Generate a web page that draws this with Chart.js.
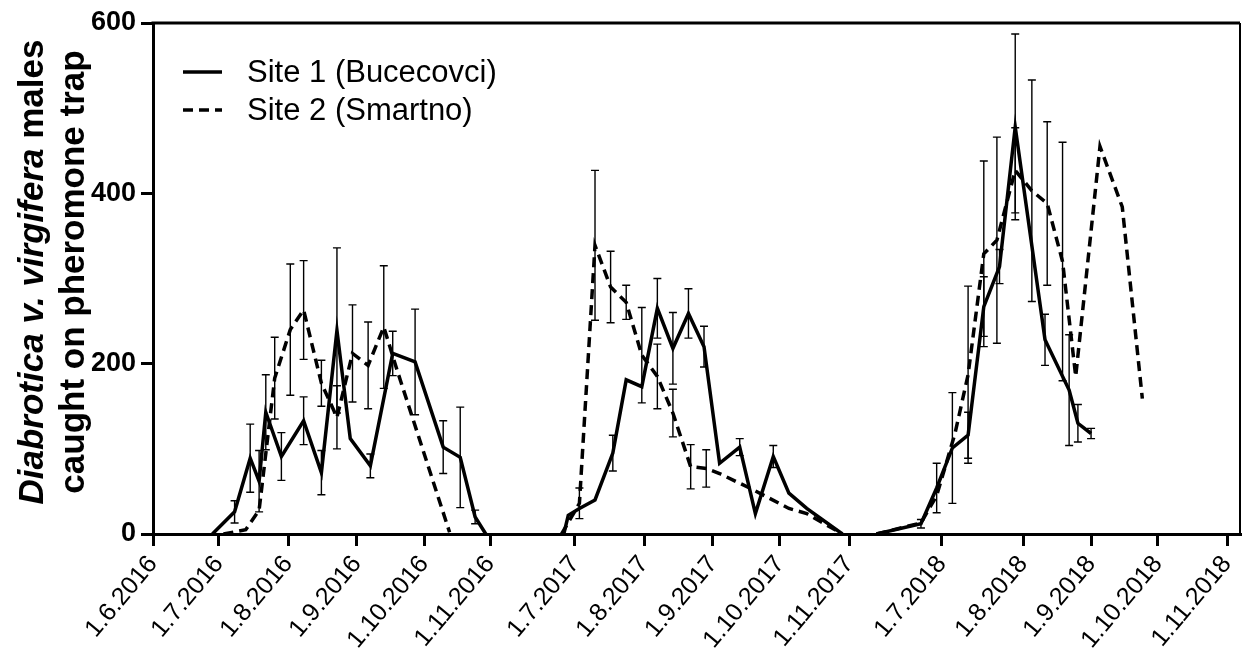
<!DOCTYPE html>
<html>
<head>
<meta charset="utf-8">
<script src="https://cdn.jsdelivr.net/npm/chart.js@4.4.1/dist/chart.umd.min.js"></script>
<style>
  html, body { margin: 0; padding: 0; background: #fff; }
  #wrap { width: 1242px; height: 665px; }
</style>
</head>
<body>
<div id="wrap"><canvas id="myChart" width="1242" height="665"></canvas></div>
<script>
// X axis tick labels (the axis skips the winter months)
const tickLabels = [
  "1.6.2016", "1.7.2016", "1.8.2016", "1.9.2016", "1.10.2016", "1.11.2016",
  "1.7.2017", "1.8.2017", "1.9.2017", "1.10.2017", "1.11.2017",
  "1.7.2018", "1.8.2018", "1.9.2018", "1.10.2018", "1.11.2018"
];
// Where each tick sits on the broken axis (axis units, roughly days)
const tickPos = [0, 30, 61.4, 92.7, 123.2, 153.2, 191.8, 223.2, 254.5, 285, 316.4, 358.6, 395.5, 426.4, 456.8, 488.2];
const xMax = 494.1;

// Y axis ticks
const yTicks = [0, 200, 400, 600];

// Site 1 (Bucecovci): sampling dates, mean males per trap, error
const site1Dates = [
  "28.6.2016", "8.7.2016", "15.7.2016", "19.7.2016", "22.7.2016", "29.7.2016", "8.8.2016", "16.8.2016",
  "23.8.2016", "29.8.2016", "7.9.2016", "17.9.2016", "27.9.2016", "10.10.2016", "18.10.2016", "25.10.2016", "30.10.2016",
  "26.6.2017", "28.6.2017", "3.7.2017", "10.7.2017", "18.7.2017", "24.7.2017", "31.7.2017", "7.8.2017", "14.8.2017",
  "21.8.2017", "28.8.2017", "4.9.2017", "13.9.2017", "20.9.2017", "28.9.2017", "5.10.2017", "13.10.2017", "29.10.2017",
  "6.6.2018", "23.6.2018", "29.6.2018", "5.7.2018", "11.7.2018", "17.7.2018", "23.7.2018", "29.7.2018",
  "11.8.2018", "22.8.2018", "26.8.2018", "1.9.2018"
];
const site1Values = [
  0, 26, 89, 62, 143, 91, 133, 72, 239, 112, 80, 212, 202, 102, 90, 20, 0,
  0, 22, 30, 40, 95, 181, 173, 265, 218, 259, 220, 83, 102, 24, 91, 48, 30, 0,
  0, 12, 54, 101, 116, 267, 314, 478, 228, 169, 130, 118
];
const site1Err = [
  0, 13, 40, 36, 44, 28, 28, 26, 97, 0, 14, 26, 62, 31, 59, 8, 0,
  0, 0, 0, 0, 21, 0, 0, 35, 42, 29, 24, 0, 10, 0, 13, 0, 0, 0,
  0, 5, 29, 65, 27, 35, 20, 109, 30, 65, 22, 6
];

// Site 2 (Smartno)
const site2Dates = [
  "3.7.2016", "13.7.2016", "19.7.2016", "26.7.2016", "2.8.2016", "8.8.2016", "16.8.2016", "23.8.2016",
  "30.8.2016", "6.9.2016", "13.9.2016", "19.9.2016", "13.10.2016",
  "25.6.2017", "3.7.2017", "10.7.2017", "17.7.2017", "24.7.2017", "31.7.2017", "7.8.2017", "14.8.2017",
  "22.8.2017", "29.8.2017", "4.9.2017", "19.9.2017", "5.10.2017", "13.10.2017", "29.10.2017",
  "6.6.2018", "23.6.2018", "29.6.2018", "6.7.2018", "11.7.2018", "17.7.2018", "22.7.2018", "29.7.2018",
  "5.8.2018", "12.8.2018", "19.8.2018", "25.8.2018", "5.9.2018", "15.9.2018", "24.9.2018"
];
const site2Values = [
  0, 5, 28, 183, 240, 263, 177, 137, 212, 198, 243, 192, 2,
  0, 36, 339, 290, 272, 210, 185, 142, 79, 77, 71, 52, 30, 24, 0,
  0, 13, 45, 118, 187, 329, 345, 427, 403, 388, 320, 185, 455, 384, 159
];
const site2Err = [
  0, 0, 0, 48, 77, 58, 27, 37, 57, 51, 72, 0, 0,
  0, 18, 88, 42, 20, 56, 38, 28, 26, 22, 0, 0, 0, 0, 0,
  0, 0, 0, 0, 104, 109, 121, 50, 130, 96, 140, 0, 0, 0, 0
];

// Axis title pieces
const titleItalic = "Diabrotica v. virgifera";
const titleRest = " males";
const titleLine2 = "caught on pheromone trap";

const fontFamily = "'Liberation Sans', Arial, Helvetica, sans-serif";

// "d.m.yyyy" -> day number
function toDay(str) {
  const p = str.split(".").map(Number);
  return Date.UTC(p[2], p[1] - 1, p[0]) / 86400000;
}

// Place a date on the broken axis using the ticks of the same year
function dateToAxis(str) {
  const year = str.split(".")[2];
  const anchors = [];
  tickLabels.forEach((lab, i) => {
    if (lab.split(".")[2] === year) anchors.push([toDay(lab), tickPos[i]]);
  });
  const t = toDay(str);
  let i = 0;
  while (i < anchors.length - 2 && t > anchors[i + 1][0]) i++;
  const a = anchors[i], b = anchors[i + 1];
  return a[1] + (t - a[0]) * (b[1] - a[1]) / (b[0] - a[0]);
}

// Build points (with a break between years) and matching error list
function buildSeries(dates, values, errs) {
  const points = [];
  const bars = [];
  let lastYear = null;
  dates.forEach((d, i) => {
    const year = d.split(".")[2];
    if (lastYear !== null && year !== lastYear) {
      points.push({ x: dateToAxis(d) - 1, y: null });
      bars.push(0);
    }
    points.push({ x: dateToAxis(d), y: values[i] });
    bars.push(errs[i]);
    lastYear = year;
  });
  return { points, bars };
}

const s1 = buildSeries(site1Dates, site1Values, site1Err);
const s2 = buildSeries(site2Dates, site2Values, site2Err);

// Error bars with small caps
const errorBarPlugin = {
  id: "errorBars",
  afterDatasetsDraw(chart) {
    const ctx = chart.ctx;
    const xs = chart.scales.x, ys = chart.scales.y;
    ctx.save();
    ctx.strokeStyle = "#000";
    ctx.lineWidth = 1.4;
    chart.data.datasets.forEach((ds) => {
      ds.data.forEach((pt, i) => {
        const e = ds.errors[i];
        if (pt.y === null || !e) return;
        const px = xs.getPixelForValue(pt.x);
        const top = ys.getPixelForValue(pt.y + e);
        const bot = ys.getPixelForValue(pt.y - e);
        ctx.beginPath();
        ctx.moveTo(px, top); ctx.lineTo(px, bot);
        ctx.moveTo(px - 4, top); ctx.lineTo(px + 4, top);
        ctx.moveTo(px - 4, bot); ctx.lineTo(px + 4, bot);
        ctx.stroke();
      });
    });
    ctx.restore();
  }
};

// Top and right frame lines
const framePlugin = {
  id: "frame",
  afterDraw(chart) {
    const a = chart.chartArea;
    const ctx = chart.ctx;
    ctx.save();
    ctx.strokeStyle = "#000";
    ctx.lineWidth = 3;
    ctx.beginPath();
    ctx.moveTo(a.left - 1.5, a.top);
    ctx.lineTo(a.right, a.top);
    ctx.stroke();
    ctx.lineWidth = 2;
    ctx.beginPath();
    ctx.moveTo(a.right, a.top);
    ctx.lineTo(a.right, a.bottom);
    ctx.stroke();
    ctx.restore();
  }
};

// Legend drawn inside the plot, top left
const legendPlugin = {
  id: "insideLegend",
  afterDraw(chart) {
    const a = chart.chartArea;
    const ctx = chart.ctx;
    ctx.save();
    chart.data.datasets.forEach((ds, i) => {
      const y = a.top + 49 + i * 38;
      ctx.strokeStyle = "#000";
      ctx.lineWidth = ds.borderWidth;
      ctx.setLineDash(ds.borderDash || []);
      ctx.beginPath();
      ctx.moveTo(a.left + 30, y);
      ctx.lineTo(a.left + 69, y);
      ctx.stroke();
      ctx.setLineDash([]);
      ctx.fillStyle = "#000";
      ctx.font = "31px " + fontFamily;
      ctx.textBaseline = "middle";
      ctx.textAlign = "left";
      ctx.fillText(ds.label, a.left + 94, y + 1);
    });
    ctx.restore();
  }
};

// Two line y axis title, species name in italics
const yTitlePlugin = {
  id: "yTitle",
  afterDraw(chart) {
    const ctx = chart.ctx;
    const cy = 272;
    const italicFont = "italic bold 35px " + fontFamily;
    const boldFont = "bold 35px " + fontFamily;
    ctx.save();
    ctx.fillStyle = "#000";
    ctx.textBaseline = "alphabetic";
    ctx.textAlign = "left";
    ctx.translate(43, cy);
    ctx.rotate(-Math.PI / 2);
    ctx.font = italicFont;
    const w1 = ctx.measureText(titleItalic).width;
    ctx.font = boldFont;
    const w2 = ctx.measureText(titleRest).width;
    const x0 = -(w1 + w2) / 2;
    ctx.font = italicFont;
    ctx.fillText(titleItalic, x0, 0);
    ctx.font = boldFont;
    ctx.fillText(titleRest, x0 + w1, 0);
    ctx.restore();

    ctx.save();
    ctx.fillStyle = "#000";
    ctx.textBaseline = "alphabetic";
    ctx.textAlign = "center";
    ctx.translate(84, cy);
    ctx.rotate(-Math.PI / 2);
    ctx.font = boldFont;
    ctx.fillText(titleLine2, 0, 0);
    ctx.restore();
  }
};

const canvas = document.getElementById("myChart");
const chart = new Chart(canvas.getContext("2d"), {
  type: "line",
  data: {
    datasets: [
      {
        label: "Site 1 (Bucecovci)",
        data: s1.points,
        errors: s1.bars,
        borderColor: "#000",
        borderWidth: 3.5,
        pointRadius: 0,
        tension: 0,
        fill: false,
        spanGaps: false
      },
      {
        label: "Site 2 (Smartno)",
        data: s2.points,
        errors: s2.bars,
        borderColor: "#000",
        borderWidth: 3.5,
        borderDash: [10, 6],
        pointRadius: 0,
        tension: 0,
        fill: false,
        spanGaps: false
      }
    ]
  },
  options: {
    responsive: false,
    animation: false,
    devicePixelRatio: 1,
    layout: { padding: { top: 23, right: 2, left: 0, bottom: 0 } },
    plugins: {
      legend: { display: false },
      tooltip: { enabled: false }
    },
    scales: {
      x: {
        type: "linear",
        min: 0,
        max: xMax,
        afterBuildTicks: (scale) => {
          scale.ticks = tickPos.map((v) => ({ value: v }));
        },
        afterFit: (scale) => {
          scale.height = 131;
          scale.paddingLeft = 0;
          scale.paddingRight = 0;
        },
        ticks: {
          autoSkip: false,
          minRotation: 50,
          maxRotation: 50,
          padding: 4,
          color: "#000",
          font: { family: fontFamily, size: 25 },
          callback: (value, index) => tickLabels[index]
        },
        grid: { drawOnChartArea: false, drawTicks: true, tickLength: 12, lineWidth: 3, color: "#000" },
        border: { display: true, width: 3, color: "#000" }
      },
      y: {
        min: 0,
        max: 600,
        afterBuildTicks: (scale) => {
          scale.ticks = yTicks.map((v) => ({ value: v }));
        },
        afterFit: (scale) => {
          scale.width = 153;
          scale.paddingTop = 0;
          scale.paddingBottom = 0;
        },
        ticks: {
          padding: 5,
          color: "#000",
          font: { family: fontFamily, size: 27, weight: "bold" }
        },
        grid: { drawOnChartArea: false, drawTicks: true, tickLength: 12, lineWidth: 3, color: "#000" },
        border: { display: true, width: 3, color: "#000" }
      }
    }
  },
  plugins: [errorBarPlugin, framePlugin, legendPlugin, yTitlePlugin]
});
</script>
</body>
</html>
